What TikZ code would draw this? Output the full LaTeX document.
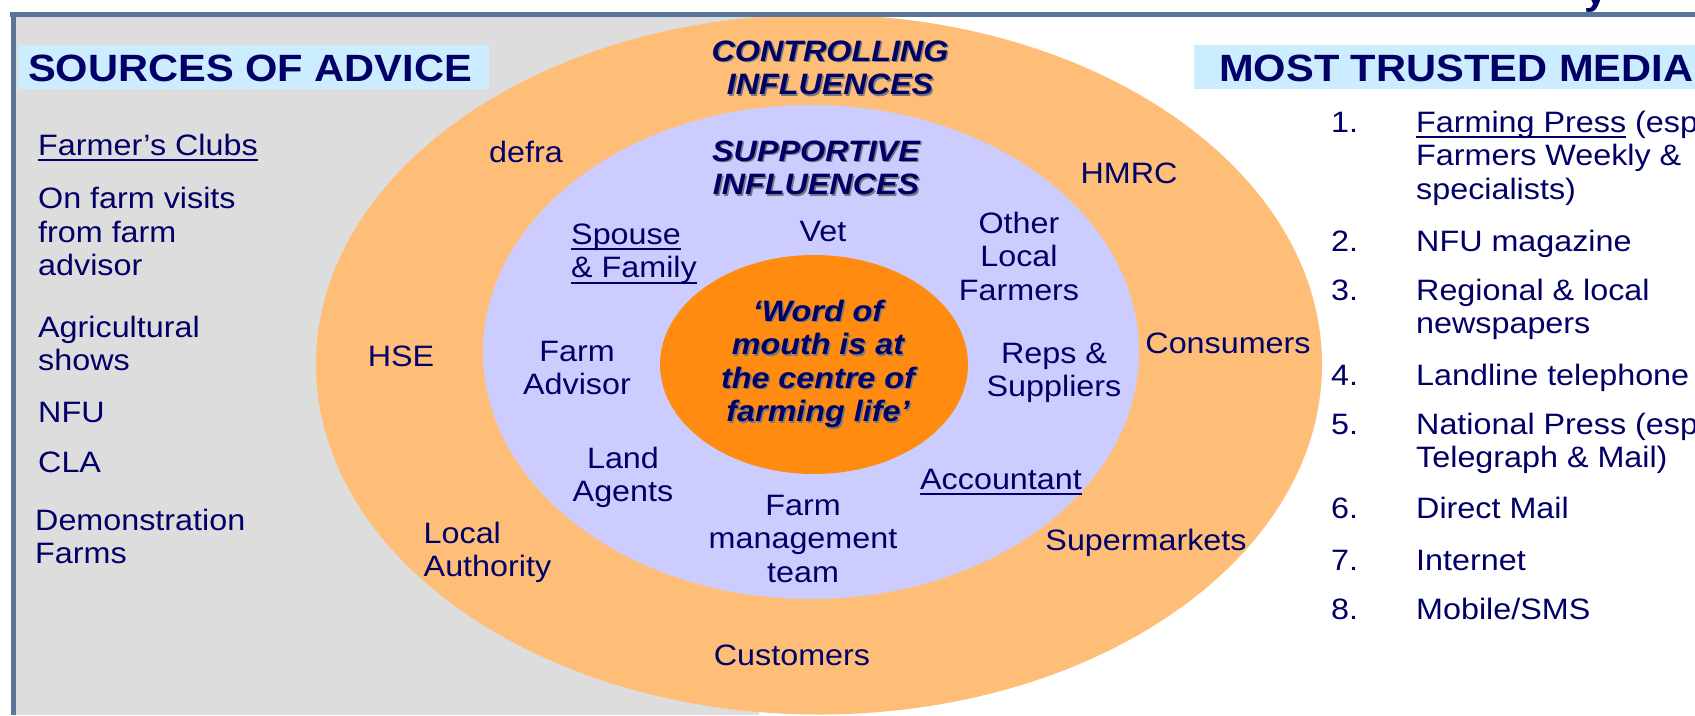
\documentclass[tikz,border=0pt]{standalone}
\usepackage{fontspec}
\setmainfont{Liberation Sans}[FakeStretch=1.095]
\usetikzlibrary{shapes.geometric}
\definecolor{navy}{RGB}{0,0,102}
\definecolor{outerc}{RGB}{255,190,120}
\definecolor{innerc}{RGB}{204,204,255}
\definecolor{corec}{RGB}{255,140,17}
\definecolor{greyc}{RGB}{221,221,221}
\definecolor{hdrc}{RGB}{204,236,255}
\definecolor{framec}{RGB}{90,115,153}
\definecolor{shadowc}{RGB}{120,120,120}
\newcommand{\myul}[1]{\setbox0=\hbox{#1}\rlap{\rule[-6pt]{\wd0}{2pt}}\box0\relax}
\newcommand{\ctext}[1]{\begin{tabular}[t]{@{}c@{}}#1\end{tabular}}
\newcommand{\ltext}[1]{\begin{tabular}[t]{@{}l@{}}#1\end{tabular}}
\tikzset{
  lbl/.style={font=\fontsize{29.5}{33.5}\selectfont, text=navy, inner sep=0pt},
  bi/.style={font=\fontsize{29.5}{33.5}\selectfont\bfseries\itshape, text=navy, inner sep=0pt},
  bish/.style={bi, text=shadowc},
  hdr/.style={font=\fontsize{38}{40}\selectfont\bfseries, text=navy, inner sep=0pt},
  hdrbox/.style={fill=hdrc, inner sep=0pt, minimum height=44pt},
  ring/.style={ellipse, inner sep=0pt, draw=none},
  frameline/.style={draw=framec, line width=5pt}
}
\begin{document}
\begin{tikzpicture}[x=1pt,y=-1pt]
\useasboundingbox (0,0) rectangle (1695,715);
\fill[white] (0,0) rectangle (1695,715);
% grey panel
\fill[greyc] (14,14) rectangle (759,715);
% header boxes
\node[hdrbox, minimum width=471pt, anchor=north west] (srcbox) at (18,45) {};
\node[hdrbox, minimum width=520pt, anchor=north west] (medbox) at (1194,45) {};
\node[hdr, anchor=base west] (srctitle) at (28,81) {SOURCES OF ADVICE};
\node[hdr, anchor=base west] (medtitle) at (1219,81) {MOST TRUSTED MEDIA};
% ellipses
\node[ring, fill=outerc, minimum width=1006pt, minimum height=700pt] (outer) at (819,364.5) {};
\node[ring, fill=innerc, minimum width=656pt, minimum height=494pt] (inner) at (811,352) {};
\node[ring, fill=corec, minimum width=308pt, minimum height=219pt] (core) at (814,364.5) {};
% frame lines
\draw[frameline] (10,14) -- (1695,14);
\draw[frameline] (13,12) -- (13,715);
\node[hdr, anchor=base] (ytop) at (1596,4) {y};
% left list
\node[lbl, anchor=base west] (club) at (38,155) {\myul{Farmer’s Clubs}};
\node[lbl, anchor=base west] (visits) at (38,208.5) {\ltext{On farm visits\\from farm\\advisor}};
\node[lbl, anchor=base west] (shows) at (38,337) {\ltext{Agricultural\\shows}};
\node[lbl, anchor=base west] (nfu) at (38,422) {NFU};
\node[lbl, anchor=base west] (cla) at (38,472) {CLA};
\node[lbl, anchor=base west] (demo) at (35,530) {\ltext{Demonstration\\Farms}};
% right list numbers
\node[lbl, anchor=base west] (n1) at (1331,132) {1.};
\node[lbl, anchor=base west] (n2) at (1331,251) {2.};
\node[lbl, anchor=base west] (n3) at (1331,300) {3.};
\node[lbl, anchor=base west] (n4) at (1331,385) {4.};
\node[lbl, anchor=base west] (n5) at (1331,434) {5.};
\node[lbl, anchor=base west] (n6) at (1331,518) {6.};
\node[lbl, anchor=base west] (n7) at (1331,570) {7.};
\node[lbl, anchor=base west] (n8) at (1331,619) {8.};
% right list texts
\node[lbl, anchor=base west] (m1) at (1416,132) {\ltext{\myul{Farming Press} (esp\\Farmers Weekly \&\\specialists)}};
\node[lbl, anchor=base west] (m2) at (1416,251) {NFU magazine};
\node[lbl, anchor=base west] (m3) at (1416,300) {\ltext{Regional \& local\\newspapers}};
\node[lbl, anchor=base west] (m4) at (1416,385) {Landline telephone};
\node[lbl, anchor=base west] (m5) at (1416,434) {\ltext{National Press (esp\\Telegraph \& Mail)}};
\node[lbl, anchor=base west] (m6) at (1416,518) {Direct Mail};
\node[lbl, anchor=base west] (m7) at (1416,570) {Internet};
\node[lbl, anchor=base west] (m8) at (1416,619) {Mobile/SMS};
% outer ring labels
\node[bish, anchor=base] (ctrlsh) at (831.5,62.5) {\ctext{CONTROLLING\\INFLUENCES}};
\node[bi, anchor=base] (ctrl) at (830,61) {\ctext{CONTROLLING\\INFLUENCES}};
\node[lbl, anchor=base] (defra) at (526,162) {defra};
\node[lbl, anchor=base] (hmrc) at (1129,183) {HMRC};
\node[lbl, anchor=base] (hse) at (401,366) {HSE};
\node[lbl, anchor=base] (consumers) at (1228,353) {Consumers};
\node[lbl, anchor=base west] (localauth) at (423.5,543) {\ltext{Local\\Authority}};
\node[lbl, anchor=base] (supermarkets) at (1146,550) {Supermarkets};
\node[lbl, anchor=base] (customers) at (792,665) {Customers};
% inner ring labels
\node[bish, anchor=base] (suppsh) at (817.5,162.5) {\ctext{SUPPORTIVE\\INFLUENCES}};
\node[bi, anchor=base] (supp) at (816,161) {\ctext{SUPPORTIVE\\INFLUENCES}};
\node[lbl, anchor=base west] (spouse) at (571,244) {\ltext{\myul{Spouse}\\\myul{\& Family}}};
\node[lbl, anchor=base] (vet) at (823,241) {Vet};
\node[lbl, anchor=base] (other) at (1019,233) {\ctext{Other\\Local\\Farmers}};
\node[lbl, anchor=base] (farmadv) at (577,361) {\ctext{Farm\\Advisor}};
\node[lbl, anchor=base] (reps) at (1054,363) {\ctext{Reps \&\\Suppliers}};
\node[lbl, anchor=base] (land) at (623,468) {\ctext{Land\\Agents}};
\node[lbl, anchor=base] (acct) at (1001,489) {\myul{Accountant}};
\node[lbl, anchor=base] (fmt) at (803,515) {\ctext{Farm\\management\\team}};
% core
\node[bish, anchor=base] (wordsh) at (819.5,322.5) {\ctext{‘Word of\\mouth is at\\the centre of\\farming life’}};
\node[bi, anchor=base] (word) at (818,321) {\ctext{‘Word of\\mouth is at\\the centre of\\farming life’}};
\end{tikzpicture}
\end{document}
